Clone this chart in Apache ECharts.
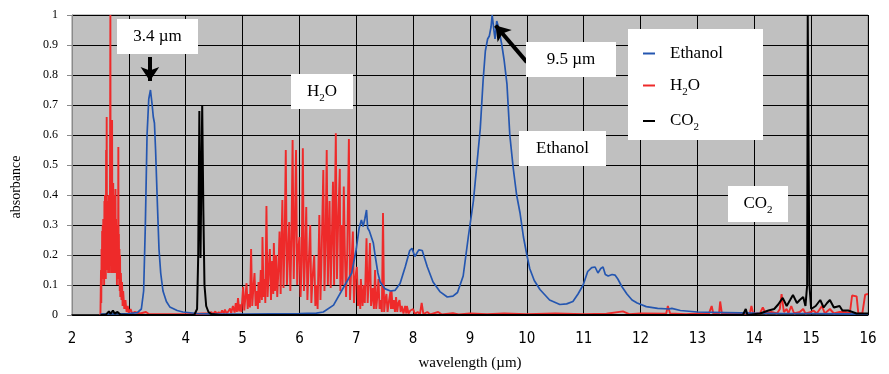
<!DOCTYPE html>
<html>
<head>
<meta charset="utf-8">
<script src="https://cdn.jsdelivr.net/npm/echarts@6/dist/echarts.min.js"></script>
<style>html,body{margin:0;padding:0;background:#fff;}#c{width:889px;height:374px;}</style>
</head>
<body>
<div id="c"></div>
<script>
var xTicks = [2, 16, 1];
var yTicks = [0, 1, 0.1];

var ethanol = [[2.5,0.003],[3.0,0.005],[3.15,0.008],[3.22,0.02],[3.26,0.08],[3.29,0.3],[3.32,0.6],[3.35,0.72],[3.38,0.75],[3.41,0.7],[3.43,0.66],[3.45,0.64],[3.47,0.55],[3.5,0.38],[3.53,0.22],[3.56,0.14],[3.6,0.08],[3.66,0.045],[3.72,0.027],[3.85,0.015],[3.95,0.01],[4.2,0.005],[4.5,0.004],[5.0,0.003],[5.5,0.004],[6.0,0.005],[6.3,0.006],[6.42,0.01],[6.6,0.033],[6.77,0.09],[6.92,0.14],[7.0,0.22],[7.05,0.29],[7.09,0.317],[7.12,0.295],[7.15,0.32],[7.18,0.35],[7.2,0.29],[7.23,0.28],[7.26,0.275],[7.3,0.24],[7.33,0.2],[7.38,0.14],[7.42,0.11],[7.5,0.088],[7.6,0.08],[7.68,0.082],[7.77,0.105],[7.86,0.16],[7.94,0.215],[7.98,0.222],[8.03,0.195],[8.06,0.2],[8.1,0.217],[8.16,0.215],[8.2,0.19],[8.25,0.16],[8.35,0.11],[8.47,0.078],[8.6,0.06],[8.7,0.063],[8.78,0.075],[8.88,0.13],[8.97,0.26],[9.06,0.38],[9.12,0.5],[9.18,0.62],[9.23,0.78],[9.27,0.88],[9.31,0.92],[9.34,0.93],[9.37,0.96],[9.39,1.0],[9.42,0.95],[9.44,0.92],[9.47,0.98],[9.5,0.96],[9.56,0.9],[9.6,0.85],[9.65,0.77],[9.7,0.6],[9.76,0.49],[9.82,0.4],[9.88,0.34],[9.94,0.26],[10.0,0.2],[10.05,0.155],[10.13,0.115],[10.23,0.085],[10.4,0.05],[10.58,0.035],[10.7,0.037],[10.81,0.045],[10.9,0.07],[10.99,0.1],[11.07,0.145],[11.14,0.158],[11.2,0.16],[11.25,0.14],[11.3,0.155],[11.34,0.16],[11.38,0.135],[11.43,0.13],[11.5,0.135],[11.55,0.133],[11.6,0.12],[11.67,0.095],[11.76,0.07],[11.85,0.05],[11.94,0.04],[12.1,0.028],[12.3,0.022],[12.5,0.02],[12.55,0.022],[12.7,0.015],[13.0,0.01],[13.5,0.008],[14.0,0.006],[14.5,0.005],[15.0,0.005],[15.5,0.004],[16.0,0.003]];

var h2oBand1 = [[2.5,0],[2.51,0.15],[2.515,0.04],[2.52,0.22],[2.525,0.1],[2.53,0.28],[2.535,0.12],[2.54,0.3],[2.545,0.14],[2.55,0.32],[2.555,0.16],[2.56,0.26],[2.565,0.1],[2.57,0.38],[2.575,0.18],[2.58,0.4],[2.585,0.2],[2.59,0.35],[2.595,0.12],[2.6,0.55],[2.605,0.18],[2.61,0.66],[2.615,0.22],[2.62,0.34],[2.625,0.15],[2.63,0.38],[2.635,0.14],[2.64,0.3],[2.645,0.16],[2.65,0.4],[2.655,0.14],[2.66,0.34],[2.665,0.2],[2.675,1.0],[2.68,0.18],[2.685,0.38],[2.69,0.14],[2.695,0.32],[2.7,0.22],[2.705,0.65],[2.71,0.18],[2.715,0.42],[2.72,0.14],[2.725,0.44],[2.73,0.22],[2.735,0.38],[2.74,0.14],[2.745,0.33],[2.75,0.18],[2.755,0.4],[2.76,0.15],[2.765,0.42],[2.77,0.14],[2.775,0.32],[2.78,0.18],[2.785,0.28],[2.79,0.1],[2.795,0.25],[2.8,0.12],[2.805,0.3],[2.81,0.14],[2.815,0.56],[2.82,0.12],[2.825,0.27],[2.83,0.1],[2.835,0.22],[2.84,0.08],[2.845,0.2],[2.85,0.06],[2.86,0.14],[2.87,0.05],[2.88,0.11],[2.89,0.03],[2.9,0.08],[2.92,0.02],[2.94,0.05],[2.96,0.01],[2.98,0.03],[3.0,0.005],[3.03,0.02],[3.06,0.005],[3.1,0.01],[3.2,0.005],[3.3,0.01],[3.35,0.003],[3.5,0.003],[4.0,0.003],[4.3,0.005],[4.4,0.005]];

var h2oBand2 = [[4.45,0.01],[4.48,0.003],[4.52,0.012],[4.55,0.003],[4.58,0.01],[4.61,0.003],[4.64,0.015],[4.67,0.004],[4.69,0.018],[4.72,0.005],[4.75,0.012],[4.78,0.022],[4.8,0.006],[4.83,0.03],[4.86,0.008],[4.88,0.04],[4.9,0.01],[4.92,0.056],[4.94,0.012],[4.96,0.035],[4.98,0.01],[5.01,0.094],[5.03,0.015],[5.05,0.06],[5.07,0.106],[5.09,0.02],[5.11,0.07],[5.13,0.025],[5.15,0.22],[5.17,0.03],[5.19,0.09],[5.21,0.14],[5.23,0.03],[5.25,0.08],[5.27,0.02],[5.28,0.11],[5.3,0.04],[5.32,0.15],[5.34,0.05],[5.35,0.26],[5.37,0.06],[5.39,0.12],[5.4,0.04],[5.42,0.363],[5.44,0.06],[5.46,0.15],[5.48,0.22],[5.5,0.05],[5.52,0.18],[5.54,0.07],[5.55,0.24],[5.57,0.08],[5.59,0.2],[5.61,0.06],[5.63,0.15],[5.65,0.278],[5.67,0.07],[5.68,0.2],[5.7,0.383],[5.72,0.09],[5.74,0.25],[5.76,0.55],[5.78,0.1],[5.8,0.2],[5.82,0.31],[5.84,0.08],[5.86,0.25],[5.88,0.583],[5.9,0.12],[5.92,0.3],[5.94,0.55],[5.96,0.1],[5.98,0.22],[6.0,0.26],[6.02,0.06],[6.04,0.18],[6.06,0.556],[6.08,0.08],[6.1,0.2],[6.12,0.36],[6.14,0.05],[6.16,0.15],[6.19,0.3],[6.21,0.04],[6.23,0.12],[6.26,0.2],[6.28,0.03],[6.3,0.1],[6.32,0.02],[6.35,0.333],[6.37,0.05],[6.39,0.2],[6.42,0.483],[6.44,0.08],[6.46,0.25],[6.48,0.55],[6.5,0.1],[6.53,0.38],[6.55,0.09],[6.57,0.25],[6.59,0.444],[6.61,0.1],[6.62,0.3],[6.64,0.606],[6.66,0.12],[6.68,0.3],[6.71,0.487],[6.72,0.08],[6.74,0.3],[6.76,0.1],[6.78,0.428],[6.8,0.2],[6.82,0.06],[6.84,0.2],[6.87,0.587],[6.89,0.05],[6.91,0.15],[6.94,0.278],[6.96,0.04],[6.98,0.12],[7.01,0.16],[7.03,0.03],[7.05,0.1],[7.07,0.02],[7.08,0.12],[7.11,0.03],[7.13,0.1],[7.15,0.04],[7.18,0.256],[7.2,0.04],[7.22,0.12],[7.24,0.24],[7.26,0.03],[7.29,0.09],[7.31,0.02],[7.33,0.15],[7.35,0.02],[7.37,0.06],[7.39,0.12],[7.41,0.02],[7.43,0.05],[7.45,0.01],[7.47,0.34],[7.49,0.01],[7.51,0.05],[7.53,0.07],[7.55,0.01],[7.57,0.04],[7.6,0.078],[7.61,0.02],[7.62,0.08],[7.64,0.02],[7.66,0.05],[7.68,0.01],[7.7,0.06],[7.72,0.01],[7.74,0.04],[7.76,0.05],[7.78,0.01],[7.8,0.03],[7.83,0.005],[7.86,0.03],[7.88,0.005],[7.89,0.03],[7.92,0.005],[7.95,0.015],[8.0,0.02],[8.03,0.003]];

var h2oTail = [[8.08,0.01],[8.12,0.003],[8.15,0.04],[8.18,0.003],[8.25,0.01],[8.3,0.002],[8.44,0.01],[8.5,0.002],[8.7,0.006],[8.8,0.002],[9.0,0.005],[9.3,0.003],[9.6,0.005],[10.0,0.003],[10.5,0.005],[11.0,0.003],[11.4,0.004],[11.69,0.012],[11.8,0.003],[12.0,0.005],[12.45,0.004],[12.48,0.03],[12.52,0.005],[12.8,0.003],[13.0,0.005],[13.2,0.004],[13.25,0.03],[13.28,0.004],[13.38,0.005],[13.4,0.045],[13.43,0.005],[13.6,0.004],[13.8,0.006],[13.92,0.004],[13.95,0.03],[13.98,0.004],[14.1,0.006],[14.15,0.025],[14.2,0.005],[14.3,0.01],[14.4,0.005],[14.45,0.02],[14.48,0.07],[14.52,0.01],[14.57,0.02],[14.6,0.005],[14.65,0.03],[14.7,0.005],[14.8,0.01],[14.86,0.02],[14.9,0.005],[15.0,0.01],[15.04,0.015],[15.1,0.005],[15.19,0.03],[15.24,0.005],[15.33,0.02],[15.4,0.005],[15.5,0.01],[15.6,0.01],[15.68,0.005],[15.72,0.065],[15.8,0.062],[15.83,0.005],[15.9,0.005],[15.95,0.068],[16.0,0.07]];

var co2 = [[2.5,0],[2.6,0.002],[2.65,0.012],[2.68,0.004],[2.72,0.015],[2.75,0.005],[2.8,0.01],[2.85,0.002],[3.0,0],[4.15,0],[4.2,0.02],[4.22,0.2],[4.24,0.68],[4.26,0.19],[4.29,0.7],[4.31,0.35],[4.33,0.1],[4.36,0.03],[4.4,0.01],[4.45,0.003],[4.6,0],[13.8,0],[13.85,0.02],[13.88,0],[14.1,0.005],[14.25,0.015],[14.35,0.02],[14.42,0.035],[14.5,0.057],[14.57,0.03],[14.63,0.05],[14.68,0.067],[14.75,0.04],[14.8,0.05],[14.86,0.06],[14.9,0.03],[14.93,0.1],[14.94,1.0],[14.96,1.0],[14.97,0.1],[15.0,0.02],[15.08,0.03],[15.16,0.05],[15.22,0.025],[15.28,0.04],[15.33,0.05],[15.4,0.025],[15.5,0.03],[15.55,0.015],[15.65,0.015],[15.8,0.005],[16.0,0.005]];

var seriesNames = ['Ethanol', 'H2O', 'CO2'];
var arrows = [[[3.37, 0.86], [3.37, 0.78]], [[10.0, 0.843], [9.45, 0.965]]];

var SERIF = '"Liberation Serif", "Times New Roman", serif';
var NARROW = '"Liberation Sans Narrow", "Arial Narrow", "DejaVu Sans Condensed", sans-serif';

var rich = {
  n: { fontFamily: SERIF, fontSize: 17, color: '#000', verticalAlign: 'middle', lineHeight: 20 },
  s: { fontFamily: SERIF, fontSize: 11, color: '#000', verticalAlign: 'bottom', lineHeight: 11, padding: [0, 0, -2, 0] }
};
function chem(name) {
  if (name === 'H2O') return '{n|H}{s|2}{n|O}';
  if (name === 'CO2') return '{n|CO}{s|2}';
  return '{n|' + name + '}';
}
function box(x, y, w, h, txt) {
  return {
    type: 'group', z: 10,
    children: [
      { type: 'rect', shape: { x: x, y: y, width: w, height: h }, style: { fill: '#fff' }, z: 10 },
      { type: 'text', z: 11, style: { text: txt, x: x + w / 2, y: y + h / 2, align: 'center', verticalAlign: 'middle', rich: rich, fill: '#000' } }
    ]
  };
}

var chart = echarts.init(document.getElementById('c'), null, { renderer: 'canvas' });
chart.setOption({
  animation: false,
  backgroundColor: '#fff',
  grid: { left: 72, right: 21, top: 15, bottom: 59, outerBoundsMode: 'none', containLabel: false, show: true, backgroundColor: '#c0c0c0', borderColor: '#8a8a8a', borderWidth: 1 },
  xAxis: {
    type: 'value', min: xTicks[0], max: xTicks[1], interval: xTicks[2],
    name: 'wavelength (\u00b5m)', nameLocation: 'middle', nameGap: 41,
    nameTextStyle: { fontFamily: SERIF, fontSize: 15, color: '#000' },
    axisLine: { show: true, lineStyle: { color: '#000', width: 1.5 } },
    axisTick: { show: false },
    axisLabel: { margin: 17, fontFamily: NARROW, fontSize: 15, color: '#000' },
    splitLine: { show: true, lineStyle: { color: '#000', width: 1 } }
  },
  yAxis: {
    type: 'value', min: yTicks[0], max: yTicks[1], interval: yTicks[2],
    name: 'absorbance', nameLocation: 'middle', nameGap: 49,
    nameTextStyle: { fontFamily: SERIF, fontSize: 14, color: '#000', padding: [0, 44, 0, 0] },
    axisLine: { show: true, lineStyle: { color: '#8a8a8a', width: 1 } },
    axisTick: { show: true, length: 5, lineStyle: { color: '#8a8a8a' } },
    axisLabel: { margin: 14, fontFamily: SERIF, fontSize: 12, color: '#000', formatter: function (v) { return String(+v.toFixed(1)); } },
    splitLine: { show: true, lineStyle: { color: '#000', width: 1 } }
  },
  legend: {
    data: seriesNames, orient: 'vertical', left: 643, top: 45, itemGap: 15,
    itemWidth: 12, itemHeight: 2, icon: 'rect', padding: 0,
    formatter: chem,
    textStyle: { rich: rich, padding: [0, 0, 0, 10] }
  },
  graphic: [
    { type: 'rect', z: 3, shape: { x: 628, y: 29, width: 135, height: 111 }, style: { fill: '#fff' } },
    box(117, 19, 81, 35, '{n|3.4 \u00b5m}'),
    box(291, 74, 62, 35, chem('H2O')),
    box(526, 42, 90, 35, '{n|9.5 \u00b5m}'),
    box(519, 131, 87, 35, '{n|Ethanol}'),
    box(728, 186, 60, 36, chem('CO2'))
  ],
  series: [
    { name: seriesNames[1], type: 'line', data: h2oBand1.concat(h2oBand2, h2oTail), showSymbol: false, symbol: 'none', sampling: 'none', color: '#ee2a2a', lineStyle: { width: 1.9, color: '#ee2a2a' }, z: 2 },
    { name: seriesNames[0], type: 'line', data: ethanol, showSymbol: false, symbol: 'none', color: '#2456b0', lineStyle: { width: 1.7, color: '#2456b0' }, z: 3 },
    { name: seriesNames[2], type: 'line', data: co2, showSymbol: false, symbol: 'none', color: '#000', lineStyle: { width: 2, color: '#000' }, z: 4,
      markLine: {
        silent: true, symbol: ['none', 'arrow'], symbolSize: [14, 14], label: { show: false },
        lineStyle: { color: '#000', width: 4, type: 'solid' },
        data: arrows.map(function (a) { return [{ coord: a[0] }, { coord: a[1] }]; })
      }
    }
  ]
});
</script>
</body>
</html>
